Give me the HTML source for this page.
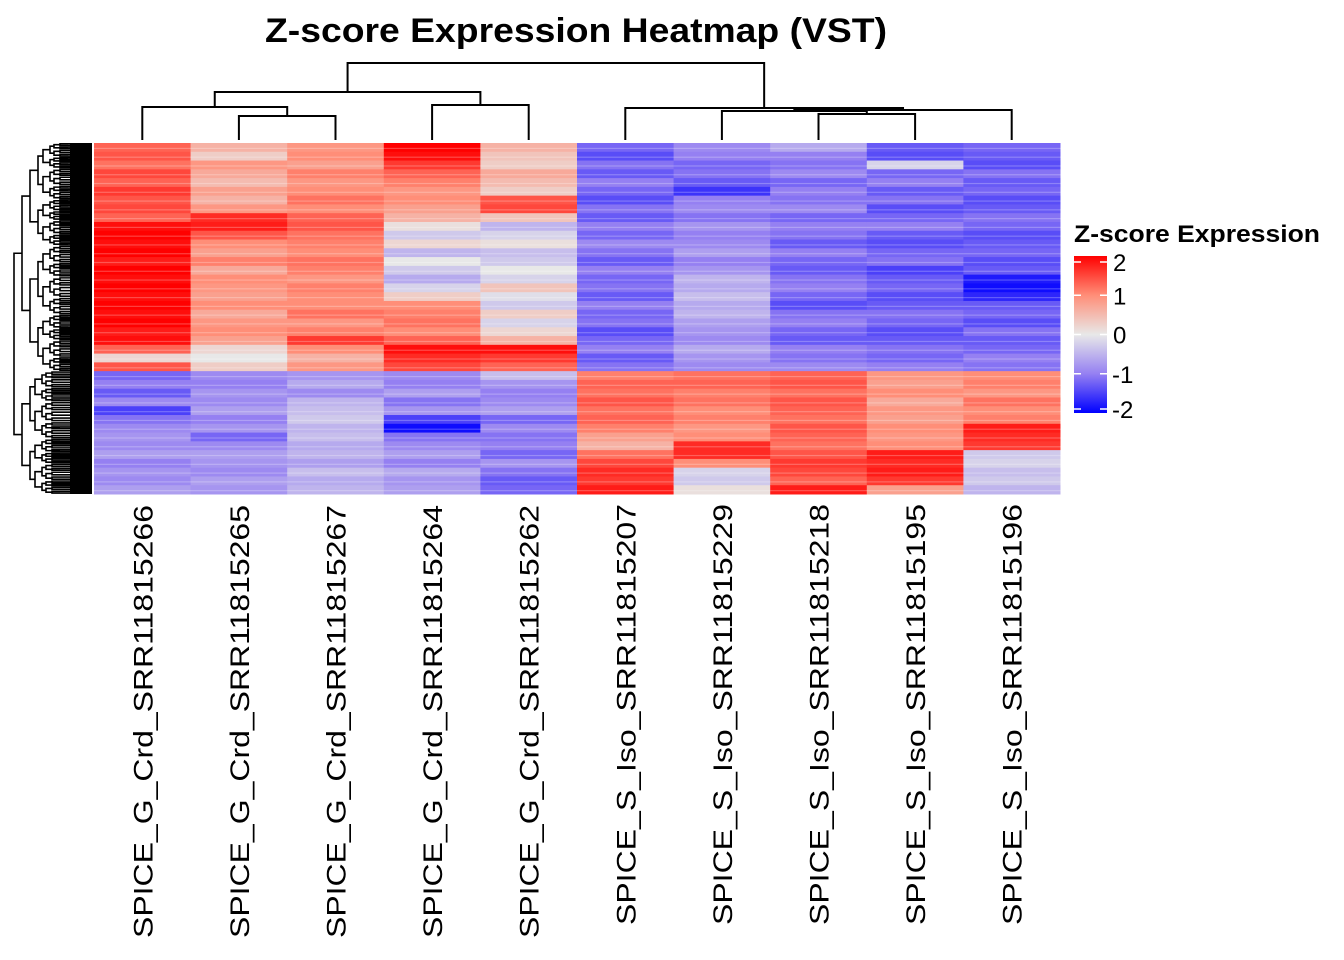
<!DOCTYPE html>
<html><head><meta charset="utf-8"><style>
body{margin:0;background:#fff;}
svg{display:block;font-family:"Liberation Sans",Arial,sans-serif;}
</style></head><body>
<svg id="chart" width="1344" height="960" viewBox="0 0 1344 960" xmlns="http://www.w3.org/2000/svg">
<text x="265" y="42" font-size="34" font-weight="bold" textLength="622" lengthAdjust="spacingAndGlyphs">Z-score Expression Heatmap (VST)</text>
<g id="cells"></g>
<g id="coldendro" stroke="#000" stroke-width="2" fill="none"></g>
<g id="rowdendro" stroke="#000" stroke-width="1.6" fill="none"></g>
<g id="collabels"></g>
<g id="legend">
<defs><linearGradient id="lg" x1="0" y1="0" x2="0" y2="1">
<stop offset="0" stop-color="#FF0000"/><stop offset="0.25" stop-color="#FF8E78"/><stop offset="0.5" stop-color="#E8E8E8"/><stop offset="0.75" stop-color="#9580F2"/><stop offset="1" stop-color="#0000FF"/></linearGradient></defs>
<text x="1074" y="242" font-size="24" font-weight="bold" textLength="246" lengthAdjust="spacingAndGlyphs">Z-score Expression</text>
<rect x="1074" y="256" width="33" height="157" fill="url(#lg)"/>
<g id="legticks"></g>
</g>
<script>
const samples=["SPICE_G_Crd_SRR11815266","SPICE_G_Crd_SRR11815265","SPICE_G_Crd_SRR11815267","SPICE_G_Crd_SRR11815264","SPICE_G_Crd_SRR11815262","SPICE_S_Iso_SRR11815207","SPICE_S_Iso_SRR11815229","SPICE_S_Iso_SRR11815218","SPICE_S_Iso_SRR11815195","SPICE_S_Iso_SRR11815196"];
const col1=[1.3,1.4,1.2,1.5,1.3,1.6,1.4,1.5,1.3,1.9,2,1.9,2,1.8,2,1.9,2,1.9,2,1.9,2,1.8,1.9,1.3,0.2,1.4,-1.2,-1,-1.3,-0.9,-1.5,-1.1,-0.9,-0.8,-0.9,-0.7,-1,-0.8,-0.9,-0.7];
const col2=[0.6,0.3,0.9,0.7,0.5,0.8,0.6,0.9,1.7,1.8,1.4,1,0.8,1.1,0.7,1,0.9,0.8,1,0.7,0.9,1,0.8,0.2,0,0.3,-0.9,-1,-0.8,-0.9,-0.7,-1,-0.8,-1.2,-0.9,-0.7,-0.8,-0.9,-0.7,-0.8];
const col3=[0.9,1,0.8,1.1,0.9,1,1.2,1,1.3,1.4,1.2,1.1,1,1.2,1.1,0.9,1.1,1,1,1.2,0.9,1.1,1.6,1,0.6,0.9,-0.8,-0.6,-0.9,-0.5,-0.4,-0.3,-0.5,-0.4,-0.6,-0.5,-0.7,-0.4,-0.6,-0.5];
const col4=[2,1.9,1.6,1.3,1.1,0.9,1,0.8,0.6,0.1,-0.3,0.2,-0.5,0,-0.3,-0.6,-0.2,0.3,1,1.1,1.2,1,1.3,1.9,1.7,1.5,-0.9,-1,-0.7,-1.1,-0.8,-1.5,-1.9,-1.1,-0.9,-0.7,-1,-0.6,-0.8,-0.7];
const col5=[0.6,0.4,0.3,0.7,0.5,0.3,1.4,1.5,0.4,-0.5,-0.2,0.1,-0.4,-0.3,0,-0.2,0.4,-0.1,-0.3,0.3,-0.2,0.2,0.6,1.9,1.6,1.3,-0.4,-0.8,-1,-0.9,-0.7,-1.2,-0.9,-1.1,-1,-1.2,-0.8,-1.1,-1.3,-1.2];
const col6=[-1.2,-1.4,-1.1,-1.3,-1,-1.2,-1.4,-1.1,-1.3,-1,-1.2,-0.9,-1.1,-1.3,-1,-1.2,-1.1,-1.3,-1,-1.2,-1.1,-1.4,-1.2,-1,-1.3,-1.1,1.1,1.3,1.2,1.4,1.2,1.3,1.1,0.8,0.6,1.2,1.5,1.7,1.6,1.8];
const col7=[-0.9,-1,-1.2,-1.1,-1.3,-1.6,-1,-0.9,-1.1,-0.8,-1,-0.9,-0.7,-1,-0.8,-0.5,-0.6,-0.4,-0.6,-0.5,-0.7,-0.8,-0.9,-0.6,-0.8,-0.9,1.2,1.3,1.1,1.2,1,1.1,0.9,1,1.7,1.7,1,-0.2,-0.3,0.1];
const col8=[-0.6,-1,-1.1,-0.9,-1.2,-1,-1.1,-0.9,-1.2,-1,-1.1,-1.3,-1,-1.2,-1.3,-1.1,-1,-1.2,-1.4,-1.1,-1,-1.2,-1.3,-1,-1.1,-0.9,1.3,1.4,1.2,1.4,1.3,1.2,1.4,1.3,1.2,1.4,1.6,1.5,1.3,1.8];
const col9=[-1.3,-1.4,-0.2,-1.2,-1,-1.3,-1.1,-1.4,-1.2,-1,-1.3,-1.4,-1.2,-1.1,-1.5,-1.3,-1.2,-1.4,-1.3,-1.1,-1.2,-1.4,-1.3,-1.1,-1.2,-1,0.9,0.8,1,0.7,0.9,0.8,1,0.9,1,1.8,1.7,1.8,1.6,0.8];
const col10=[-1.2,-1.3,-1.4,-1.1,-1.3,-1.2,-1.4,-1.3,-1.1,-1.2,-1.4,-1.3,-1.2,-1.4,-1.3,-1.8,-1.9,-1.7,-1.3,-1.2,-1.4,-1.1,-1.3,-1.2,-1,-1.1,1,1.1,0.9,1.2,1,1.1,1.8,1.7,1.6,-0.3,-0.2,-0.4,-0.3,-0.5];
const valueCols=[col1,col2,col3,col4,col5,col6,col7,col8,col9,col10];
const legendTicks=[2,1,0,-1,-2];

const NS="http://www.w3.org/2000/svg";
const X0=94,X1=1060,Y0=143,Y1=494;
const nCol=samples.length,nRow=col1.length;
const cw=(X1-X0)/nCol,rh=(Y1-Y0)/nRow;
const xAt=i=>X0+i*cw, yAt=r=>Y0+r*rh, cx=i=>X0+(i+0.5)*cw;
const stops=[[-2,[0,0,255]],[-1,[149,128,242]],[0,[232,232,232]],[1,[255,142,120]],[2,[255,0,0]]];
function color(v){v=Math.max(-2,Math.min(2,v));for(let k=0;k<4;k++){const a=stops[k],b=stops[k+1];if(v<=b[0]){const t=(v-a[0])/(b[0]-a[0]);return "rgb("+a[1].map((c,j)=>Math.round(c+(b[1][j]-c)*t)).join(",")+")";}}return "red";}
const cells=document.getElementById("cells");
valueCols.forEach((col,i)=>col.forEach((v,r)=>{
 const el=document.createElementNS(NS,"rect");
 
 
 el.setAttribute("x",xAt(i));el.setAttribute("y",yAt(r));
 el.setAttribute("width",cw+0.5);el.setAttribute("height",rh+0.5);
 el.setAttribute("fill",color(v));cells.appendChild(el);
 const s=document.createElementNS(NS,"rect");
 
 
 s.setAttribute("x",xAt(i));s.setAttribute("y",yAt(r)+rh*0.55);
 s.setAttribute("width",cw+0.5);s.setAttribute("height",1.2);
 s.setAttribute("fill","#fff");s.setAttribute("opacity","0.25");cells.appendChild(s);
}));
const cl=document.getElementById("collabels");
samples.forEach((s,i)=>{
 const t=document.createElementNS(NS,"text");
 
 
 t.setAttribute("transform","translate("+(cx(i)+10)+",938) rotate(-90)");
 t.setAttribute("font-size","27");
 t.setAttribute("textLength",s.indexOf("Iso")>0?421:433);
 t.setAttribute("lengthAdjust","spacingAndGlyphs");
 if(s.indexOf("Iso")>0)t.setAttribute("transform","translate("+(cx(i)+10)+",925) rotate(-90)");
 t.textContent=s;cl.appendChild(t);
});
const cd=document.getElementById("coldendro");
function seg(g,p){const e=document.createElementNS(NS,"polyline");e.setAttribute("points",p);g.appendChild(e);}
const L=[cx(0),cx(1),cx(2),cx(3),cx(4),cx(5),cx(6),cx(7),cx(8),cx(9)];
function join(a,ya,b,yb,h){seg(cd,a+","+ya+" "+a+","+h+" "+b+","+h+" "+b+","+yb);return (a+b)/2;}
const m12=join(L[1],140,L[2],140,116);
const m012=join(L[0],140,m12,116,107);
const m34=join(L[3],140,L[4],140,105);
const mL=join(m012,107,m34,105,92);
const m78=join(L[7],140,L[8],140,114);
const m678=join(L[6],140,m78,114,111);
const m6789=join(m678,111,L[9],140,110);
const mR=join(L[5],140,m6789,110,108);
join(mL,92,mR,108,63);
const rd=document.getElementById("rowdendro");
function tree(a,b,x,depth){
 if(b-a<=2.2||depth>7){const y=(a+b)/2;seg(rd,x+","+y+" 92,"+y);return y;}
 const m=a+(b-a)*(depth%2?0.45:0.55);
 const nx=x+(depth<2?8:4+((depth*7)%5));
 const y1=tree(a,m,nx,depth+1),y2=tree(m,b,nx,depth+1);
 seg(rd,nx+","+y1+" "+x+","+y1+" "+x+","+y2+" "+nx+","+y2);
 return (y1+y2)/2;
}
const yt=tree(Y0,Y0+rh*26,22,1),yb=tree(Y0+rh*26,Y1,22,2);
seg(rd,"22,"+yt+" 14,"+yt+" 14,"+yb+" 22,"+yb);
const lf=document.createElementNS(NS,"rect");lf.setAttribute("x",70);lf.setAttribute("y",Y0);lf.setAttribute("width",22);lf.setAttribute("height",Y1-Y0);lf.setAttribute("fill","#000");lf.setAttribute("stroke","none");rd.appendChild(lf);
const lt=document.getElementById("legticks");
legendTicks.forEach(v=>{
 const y=413-(v+2)/4*157+(v==2?6:v==-2?-4:0);
 [[1074,1081],[1100,1107]].forEach(p=>{const l=document.createElementNS(NS,"line");l.setAttribute("x1",p[0]);l.setAttribute("x2",p[1]);l.setAttribute("y1",y);l.setAttribute("y2",y);l.setAttribute("stroke","#fff");l.setAttribute("stroke-width","1.5");lt.appendChild(l);});
 const t=document.createElementNS(NS,"text");
 
 
 t.setAttribute("x",v<0?1112:1113);t.setAttribute("y",y+9);t.setAttribute("font-size","24");
 t.textContent=v;lt.appendChild(t);
});
</script>
</svg>
</body></html>
